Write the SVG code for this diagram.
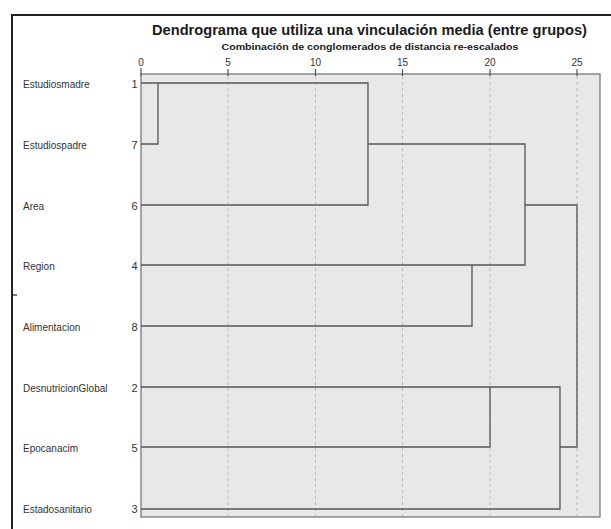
<svg xmlns="http://www.w3.org/2000/svg" width="611" height="529" viewBox="0 0 611 529">
<style>
.title{font-family:"Liberation Sans",Arial,sans-serif;font-weight:bold;font-size:14.5px;fill:#1a1a1a}
.sub{font-family:"Liberation Sans",Arial,sans-serif;font-weight:bold;font-size:9px;fill:#1a1a1a}
.tick{font-family:"Liberation Sans",Arial,sans-serif;font-size:10px;fill:#333;text-anchor:middle}
.lab{font-family:"Liberation Sans",Arial,sans-serif;font-size:10px;fill:#333}
.num{font-family:"Liberation Sans",Arial,sans-serif;font-size:11px;fill:#333;text-anchor:end}
.grid{stroke:#b8b8b8;stroke-width:1;stroke-dasharray:3 3}
.tk{stroke:#555;stroke-width:1.2}
.con{fill:none;stroke:#555;stroke-width:1.3}
</style>
<rect x="0" y="0" width="611" height="529" fill="#fff"/>
<g id="frame">
<line x1="11" y1="15" x2="611" y2="15" stroke="#222" stroke-width="2"/>
<line x1="12" y1="14" x2="12" y2="529" stroke="#222" stroke-width="2"/>
<line x1="12" y1="295" x2="17" y2="295" stroke="#222" stroke-width="1.2"/>
</g>
<text class="title" x="369.5" y="34.5" text-anchor="middle" textLength="435" lengthAdjust="spacingAndGlyphs">Dendrograma que utiliza una vinculación media (entre grupos)</text>
<text class="sub" x="370" y="50" text-anchor="middle" textLength="297" lengthAdjust="spacingAndGlyphs">Combinación de conglomerados de distancia re-escalados</text>
<g id="plot">
<rect x="141" y="74" width="459" height="443" fill="#e8e8ea" stroke="#6e6e6e" stroke-width="1.2"/>
<line class="grid" x1="228" y1="76" x2="228" y2="516"/>
<line class="grid" x1="315.5" y1="76" x2="315.5" y2="516"/>
<line class="grid" x1="402.5" y1="76" x2="402.5" y2="516"/>
<line class="grid" x1="490" y1="76" x2="490" y2="516"/>
<line class="grid" x1="577" y1="76" x2="577" y2="516"/>
</g>
<g id="axis">
<line class="tk" x1="141" y1="68" x2="141" y2="76"/>
<line class="tk" x1="228" y1="69" x2="228" y2="76"/>
<line class="tk" x1="315.5" y1="69" x2="315.5" y2="76"/>
<line class="tk" x1="402.5" y1="69" x2="402.5" y2="76"/>
<line class="tk" x1="490" y1="69" x2="490" y2="76"/>
<line class="tk" x1="577" y1="69" x2="577" y2="76"/>
<text class="tick" x="141" y="66">0</text>
<text class="tick" x="228" y="66">5</text>
<text class="tick" x="315.5" y="66">10</text>
<text class="tick" x="402.5" y="66">15</text>
<text class="tick" x="490" y="66">20</text>
<text class="tick" x="577" y="66">25</text>
</g>
<g id="leaf-1"><text class="lab" x="23" y="87.5">Estudiosmadre</text><text class="num" x="137.5" y="87.5">1</text></g>
<g id="leaf-7"><text class="lab" x="23" y="148.5">Estudiospadre</text><text class="num" x="137.5" y="148.5">7</text></g>
<g id="leaf-6"><text class="lab" x="23" y="209.5">Area</text><text class="num" x="137.5" y="209.5">6</text></g>
<g id="leaf-4"><text class="lab" x="23" y="269.5">Region</text><text class="num" x="137.5" y="269.5">4</text></g>
<g id="leaf-8"><text class="lab" x="23" y="330.5">Alimentacion</text><text class="num" x="137.5" y="330.5">8</text></g>
<g id="leaf-2"><text class="lab" x="23" y="391.5">DesnutricionGlobal</text><text class="num" x="137.5" y="391.5">2</text></g>
<g id="leaf-5"><text class="lab" x="23" y="451.5">Epocanacim</text><text class="num" x="137.5" y="451.5">5</text></g>
<g id="leaf-3"><text class="lab" x="23" y="513">Estadosanitario</text><text class="num" x="137.5" y="513">3</text></g>
<g id="connectors">
<path class="con" d="M141 83 H158 V144 H141"/>
<path class="con" d="M158 83 H368 V205 H141"/>
<path class="con" d="M368 144 H525 V265 H141"/>
<path class="con" d="M141 326 H472 V265"/>
<path class="con" d="M525 205 H577 V447 H560"/>
<path class="con" d="M141 387 H560 V509 H141"/>
<path class="con" d="M490 387 V447 H141"/>
</g>
</svg>
